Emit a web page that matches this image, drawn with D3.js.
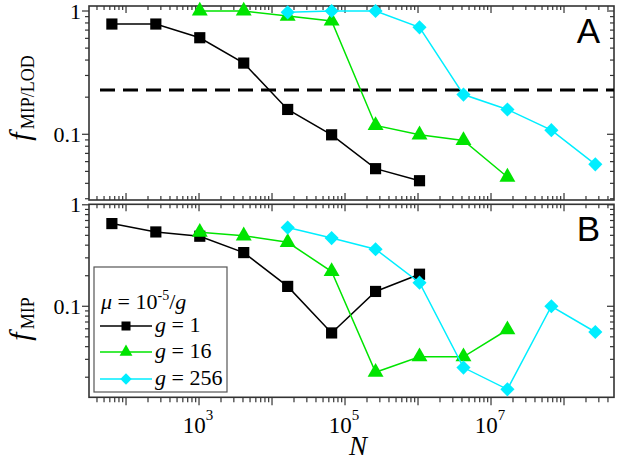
<!DOCTYPE html>
<html><head><meta charset="utf-8">
<script src="https://cdn.jsdelivr.net/npm/d3@7"></script>
<style>body{margin:0;background:#fff}svg{display:block}</style>
</head><body>
<svg id="c" width="618" height="465"></svg>
<script>
// ---- data ----
const nG1   = [64,256,1024,4096,16384,65536,262144,1048576];
const nG16  = [1024,4096,16384,65536,262144,1048576,4194304,16777216];
const nG256 = [16384,65536,262144,1048576,4194304,16777216,67108864,268435456];
const fLodG1   = [0.784,0.784,0.607,0.378,0.159,0.099,0.0526,0.042];
const fLodG16  = [1.0,1.0,0.91,0.83,0.118,0.099,0.089,0.045];
const fLodG256 = [0.976,1.0,1.0,0.737,0.21,0.159,0.108,0.057];
const fMipG1   = [0.653,0.54,0.49,0.338,0.157,0.0546,0.14,0.207];
const fMipG16  = [0.536,0.495,0.427,0.22,0.0224,0.0318,0.0318,0.0587];
const fMipG256 = [0.596,0.47,0.365,0.171,0.0249,0.0152,0.1,0.0558];
const lodThreshold = 0.229;
const seriesNames = ["g = 1","g = 16","g = 256"];
const xTickLabels = [1e3,1e5,1e7];
const yTickLabels = [0.1,1];

const colors = ["#000000","#00e400","#00eeff"];
const diamond = {draw(ctx,size){const r=Math.sqrt(size/2);ctx.moveTo(0,-r);ctx.lineTo(r,0);ctx.lineTo(0,r);ctx.lineTo(-r,0);ctx.closePath();}};
const symbols = [d3.symbolSquare, d3.symbolTriangle, diamond];
const symSizes = [125, 110, 100];

const SERIF = '"Liberation Serif"';
const SANS = '"Liberation Sans"';
const svg = d3.select("#c");
const L = 89, R = 614;
const x = d3.scaleLog().domain([31.1, 4.84e8]).range([L, R]);
const panels = [
  {top:6, bot:200, dom:[0.0293,1.098], data:[fLodG1,fLodG16,fLodG256], label:"A", sub:"MIP/LOD", ly:98, outBottom:false},
  {top:204.3, bot:397.3, dom:[0.01268,1.011], data:[fMipG1,fMipG16,fMipG256], label:"B", sub:"MIP", ly:319, outBottom:true}
];
const xs = [nG1,nG16,nG256];
const frameCol = "#333";

function majors(lo, hi){const r=[];for(let e=-3;e<=9;e++){const v=Math.pow(10,e);if(v>=lo&&v<=hi)r.push(v);}return r;}
function minors(lo, hi){const r=[];for(let e=-3;e<=9;e++){for(let k=2;k<=9;k++){const v=k*Math.pow(10,e);if(v>=lo*1.0001&&v<=hi*0.9999)r.push(v);}}return r;}

panels.forEach((p,pi)=>{
  const y = d3.scaleLog().domain(p.dom).range([p.bot, p.top]);
  const g = svg.append("g");
  const yMaj = majors(p.dom[0],p.dom[1]), yMin = minors(p.dom[0],p.dom[1]);
  const tk = g.append("g").attr("stroke",frameCol).attr("stroke-width",1.2);
  yMaj.forEach(v=>{
    tk.append("line").attr("x1",L-7).attr("x2",L).attr("y1",y(v)).attr("y2",y(v));
    tk.append("line").attr("x1",R-7).attr("x2",R).attr("y1",y(v)).attr("y2",y(v));
  });
  yMin.forEach(v=>{
    tk.append("line").attr("x1",L-4).attr("x2",L).attr("y1",y(v)).attr("y2",y(v));
    tk.append("line").attr("x1",R-4).attr("x2",R).attr("y1",y(v)).attr("y2",y(v));
  });
  const xd = x.domain();
  const xMaj = majors(xd[0],xd[1]), xMin = minors(xd[0],xd[1]);
  xMaj.forEach(v=>{
    tk.append("line").attr("x1",x(v)).attr("x2",x(v)).attr("y1",p.top).attr("y2",p.top+7);
    if(p.outBottom) tk.append("line").attr("x1",x(v)).attr("x2",x(v)).attr("y1",p.bot).attr("y2",p.bot+8);
    else tk.append("line").attr("x1",x(v)).attr("x2",x(v)).attr("y1",p.bot).attr("y2",p.bot-7);
  });
  xMin.forEach(v=>{
    tk.append("line").attr("x1",x(v)).attr("x2",x(v)).attr("y1",p.top).attr("y2",p.top+4);
    if(p.outBottom) tk.append("line").attr("x1",x(v)).attr("x2",x(v)).attr("y1",p.bot).attr("y2",p.bot+5);
    else tk.append("line").attr("x1",x(v)).attr("x2",x(v)).attr("y1",p.bot).attr("y2",p.bot-4);
  });
  yTickLabels.forEach(v=>{
    g.append("text").style("font-family",SERIF).attr("x",L-8).attr("y",y(v)).attr("dy","0.35em").attr("text-anchor","end")
     .attr("font-size",22).text(v===1?"1":String(v));
  });
  g.append("rect").attr("x",L).attr("y",p.top).attr("width",R-L).attr("height",p.bot-p.top)
   .attr("fill","none").attr("stroke",frameCol).attr("stroke-width",1.6);
  if(pi===0){
    g.append("line").attr("x1",100).attr("x2",R).attr("y1",y(lodThreshold)).attr("y2",y(lodThreshold))
     .attr("stroke","#000").attr("stroke-width",3).attr("stroke-dasharray","15,8");
  }
  p.data.forEach((vals,si)=>{
    const pts = vals.map((v,i)=>[x(xs[si][i]), y(v)]);
    g.append("path").attr("d",d3.line()(pts)).attr("fill","none").attr("stroke",colors[si]).attr("stroke-width",1.5);
    g.selectAll(null).data(pts).enter().append("path")
      .attr("transform",d=>`translate(${d[0]},${d[1]})`)
      .attr("d",d3.symbol().type(symbols[si]).size(symSizes[si]))
      .attr("fill",colors[si]);
  });
  g.append("text").style("font-family",SANS).attr("x",600).attr("y",p.top+37).attr("text-anchor","end")
   .attr("font-size",35).text(p.label);
  const yl = g.append("text").style("font-family",SERIF).attr("transform",`translate(30,${p.ly}) rotate(-90)`).attr("text-anchor","middle");
  yl.append("tspan").attr("font-style","italic").attr("font-size",30).text("f");
  yl.append("tspan").attr("font-size",18).attr("dy",4).attr("dx",3).text(p.sub);
});

xTickLabels.forEach(v=>{
  const e = Math.round(Math.log10(v));
  const t = svg.append("text").style("font-family",SERIF).attr("x",x(v)-1).attr("y",433).attr("text-anchor","middle").attr("font-size",23);
  t.append("tspan").text("10");
  t.append("tspan").attr("font-size",15).attr("dy",-13).text(e);
});
svg.append("text").style("font-family",SERIF).attr("x",358).attr("y",455).attr("text-anchor","middle")
  .attr("font-style","italic").attr("font-size",27).text("N");

const lg = svg.append("g");
lg.append("rect").attr("x",94).attr("y",267).attr("width",133).attr("height",125)
  .attr("fill","#fff").attr("stroke","#555").attr("stroke-width",1.2);
const mu = lg.append("text").style("font-family",SERIF).attr("x",101).attr("y",309).attr("font-size",22);
mu.append("tspan").attr("font-style","italic").text("μ");
mu.append("tspan").text(" = 10");
mu.append("tspan").attr("font-size",14).attr("dy",-9).text("-5");
mu.append("tspan").attr("dy",9).text("/");
mu.append("tspan").attr("font-style","italic").text("g");
const rowsY = [326,352,379];
seriesNames.forEach((nm,si)=>{
  const yy = rowsY[si];
  lg.append("line").attr("x1",100).attr("x2",152).attr("y1",yy).attr("y2",yy).attr("stroke",colors[si]).attr("stroke-width",1.5);
  lg.append("path").attr("transform",`translate(126,${yy})`).attr("d",d3.symbol().type(symbols[si]).size(symSizes[si]*0.65)).attr("fill",colors[si]);
  const t = lg.append("text").style("font-family",SERIF).attr("x",155).attr("y",yy+6).attr("font-size",22);
  const parts = nm.split(" = ");
  t.append("tspan").attr("font-style","italic").text(parts[0]);
  t.append("tspan").text(" = "+parts[1]);
});
</script>
</body></html>
